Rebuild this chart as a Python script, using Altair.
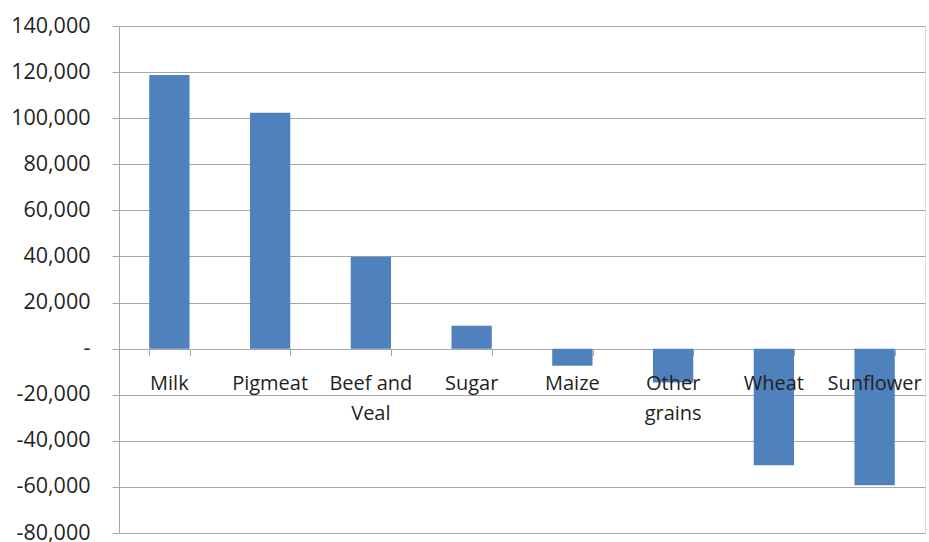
import altair as alt
import pandas as pd

# Net change by commodity
categories = ["Milk", "Pigmeat", "Beef and Veal", "Sugar", "Maize",
              "Other grains", "Wheat", "Sunflower"]
labels = ["Milk", "Pigmeat", "Beef and\nVeal", "Sugar", "Maize",
          "Other\ngrains", "Wheat", "Sunflower"]
values = [118700, 102400, 39900, 9900, -7400, -14700, -50600, -59300]
y_ticks = [-80000, -60000, -40000, -20000, 0, 20000, 40000, 60000,
           80000, 100000, 120000, 140000]

df = pd.DataFrame({"category": categories, "label": labels, "value": values})

GRID = "#a6a6a6"
BAR = "#4f81bd"
FONT = "Open Sans"
TEXT = "#1f1f1f"
W, H = 806, 507
Y_MIN, Y_MAX = -80000, 140000
zero_from_bottom = H * (0 - Y_MIN) / (Y_MAX - Y_MIN)

x_enc = alt.X(
    "category:N",
    sort=categories,
    scale=alt.Scale(paddingInner=0.6, paddingOuter=0.3),
    axis=alt.Axis(
        title=None, labels=False, domain=False, grid=False,
        ticks=True, tickBand="extent", tickSize=7, tickColor=GRID,
        tickWidth=1, offset=-zero_from_bottom,
    ),
)

y_scale = alt.Scale(domain=[Y_MIN, Y_MAX], nice=False, zero=False)

bars = alt.Chart(df).mark_bar(color=BAR).encode(
    x=x_enc,
    y=alt.Y(
        "value:Q",
        scale=y_scale,
        axis=alt.Axis(
            title=None, values=y_ticks,
            labelExpr=(
                "datum.value == 0 ? '-\u00a0\u00a0' : "
                "replace(format(datum.value, ','), '\u2212', '-')"
            ),
            grid=True, gridColor=GRID, gridWidth=1,
            domain=True, domainColor=GRID, domainWidth=1,
            ticks=True, tickSize=7, tickColor=GRID, tickWidth=1,
            labelFont=FONT, labelFontSize=21.5, labelColor=TEXT,
            labelPadding=22,
        ),
    ),
)

text = alt.Chart(df).mark_text(
    baseline="alphabetic", dy=41, font=FONT, fontSize=20,
    color=TEXT, lineBreak="\n", lineHeight=30,
).encode(
    x=alt.X("category:N", sort=categories),
    y=alt.Y(datum=0, scale=y_scale),
    text="label:N",
)

chart = alt.layer(bars, text).properties(
    width=W, height=H,
    autosize=alt.AutoSizeParams(type="none"),
    padding={"left": 119, "top": 26, "right": 4, "bottom": 9},
).configure_view(stroke=None).configure(background="white")

chart.save("out.html", embed_options={"renderer": "svg", "actions": False})
